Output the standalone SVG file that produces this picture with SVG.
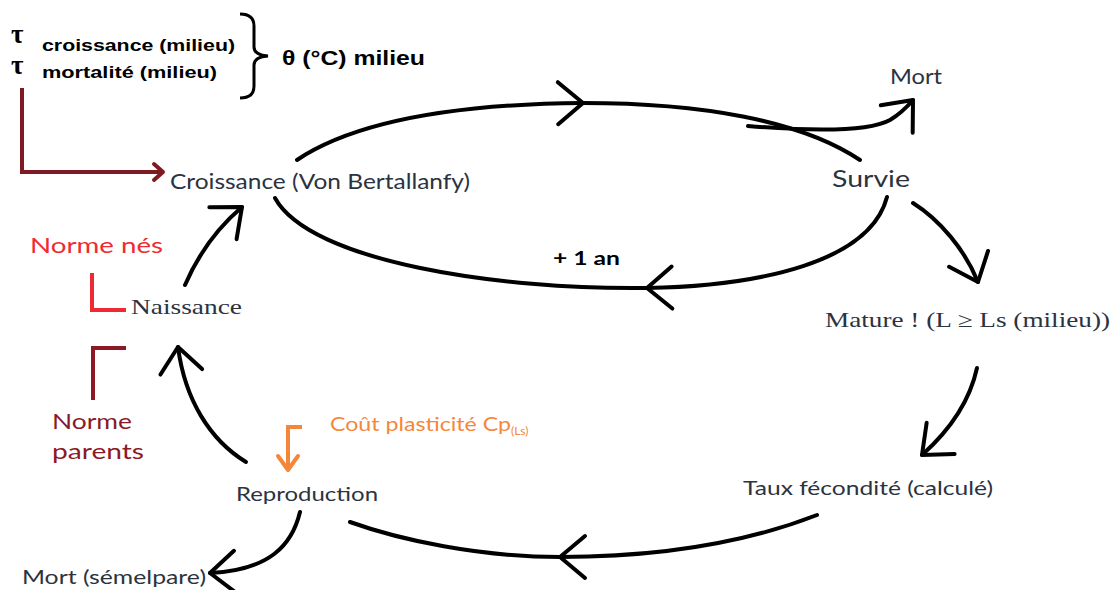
<svg xmlns="http://www.w3.org/2000/svg" width="1116" height="590" viewBox="0 0 1116 590">
<style>
text{white-space:pre}
.lbl{font-family:Lato,"Open Sans","Liberation Sans",sans-serif;fill:#2b3340}
.ser{font-family:"Liberation Serif","DejaVu Serif",serif;fill:#2b3340}
.bold{font-family:"Liberation Sans",Arial,sans-serif;font-weight:bold;fill:#000}
.tau{font-family:"Liberation Serif",serif;font-weight:bold;font-size:27px;fill:#000}
.arr{fill:none;stroke:#000;stroke-width:4;stroke-linecap:round;stroke-linejoin:round}
</style>
<defs>
<marker id="chev" markerUnits="userSpaceOnUse" viewBox="-30 -25 34 50" markerWidth="34" markerHeight="50" refX="0" refY="0" orient="auto" overflow="visible">
<path d="M-25,-21 L0,0 L-25,21" fill="none" stroke="#000" stroke-width="4" stroke-linecap="round" stroke-linejoin="round"/>
</marker>
<marker id="chevDR" markerUnits="userSpaceOnUse" viewBox="-16 -12 20 24" markerWidth="20" markerHeight="24" refX="0" refY="0" orient="auto" overflow="visible">
<path d="M-9,-8 L0,0 L-9,8" fill="none" stroke="#7f1a24" stroke-width="4" stroke-linecap="round" stroke-linejoin="round"/>
</marker>
<marker id="chevOr" markerUnits="userSpaceOnUse" viewBox="-16 -12 20 24" markerWidth="20" markerHeight="24" refX="0" refY="0" orient="auto" overflow="visible">
<path d="M-14,-10 L0,0 L-14,10" fill="none" stroke="#f5873a" stroke-width="4" stroke-linecap="round" stroke-linejoin="round"/>
</marker>
</defs>
<rect width="1116" height="590" fill="#fff"/>

<g id="connectors">
<path class="arr" d="M297,160 C360,118 470,104 583,103" marker-end="url(#chev)"/>
<path class="arr" d="M583,103 C700,103 800,120 860,160"/>
<path class="arr" d="M748,126 C820,132 870,131 890,120 C900,114 907,107 913,100" marker-end="url(#chev)"/>
<path class="arr" d="M887,197 C870,262 760,286 647,288" marker-end="url(#chev)"/>
<path class="arr" d="M647,288 C500,290 310,262 275,198"/>
<path class="arr" d="M913,203 C940,220 965,250 978,282" marker-end="url(#chev)"/>
<path class="arr" d="M977,368 C970,400 950,430 922,455" marker-end="url(#chev)"/>
<path class="arr" d="M817,515 C740,545 650,557 560,557" marker-end="url(#chev)"/>
<path class="arr" d="M560,557 C480,557 400,540 350,522"/>
<path class="arr" d="M300,512 C292,545 270,570 210,573" marker-end="url(#chev)"/>
<path class="arr" d="M246,462 C210,440 185,400 178,347" marker-end="url(#chev)"/>
<path class="arr" d="M185,285 C198,255 215,230 242,207" marker-end="url(#chev)"/>
<path d="M22,88 L22,172 L163,172" fill="none" stroke="#7f1a24" stroke-width="4" marker-end="url(#chevDR)"/>
<path d="M302,427 L288,427 L288,470" fill="none" stroke="#f5873a" stroke-width="4" marker-end="url(#chevOr)"/>
<path d="M92,273 L92,310 L126,310" fill="none" stroke="#ee2a33" stroke-width="4"/>
<path d="M93,400 L93,348 L126,348" fill="none" stroke="#8b1a26" stroke-width="4"/>
<path d="M240,14 Q254,14 254,26 L254,47 Q254,55 268,56 Q254,57 254,65 L254,86 Q254,98 240,98" fill="none" stroke="#000" stroke-width="3"/>
</g>

<g id="params">
<text class="tau" x="11" y="43">τ</text>
<text class="tau" x="11" y="74">τ</text>
<text class="bold" x="42" y="51" font-size="16" textLength="193" lengthAdjust="spacingAndGlyphs">croissance (milieu)</text>
<text class="bold" x="42" y="78" font-size="16" textLength="175" lengthAdjust="spacingAndGlyphs">mortalité (milieu)</text>
<text class="bold" x="282" y="65" font-size="20" textLength="143" lengthAdjust="spacingAndGlyphs">θ (°C) milieu</text>
</g>

<g id="croissance"><text class="lbl" x="170" y="189" font-size="22" textLength="300" lengthAdjust="spacingAndGlyphs">Croissance (Von Bertallanfy)</text></g>
<g id="survie"><text class="lbl" x="832" y="187" font-size="24" textLength="78" lengthAdjust="spacingAndGlyphs">Survie</text></g>
<g id="mort"><text class="lbl" x="890" y="84" font-size="21" textLength="52" lengthAdjust="spacingAndGlyphs">Mort</text></g>
<g id="an"><text x="553" y="265" font-family="Lato,'Open Sans',sans-serif" font-weight="bold" font-size="19" fill="#000" textLength="67" lengthAdjust="spacingAndGlyphs">+ 1 an</text></g>
<g id="mature"><text class="ser" x="825" y="327" font-size="21" textLength="285" lengthAdjust="spacingAndGlyphs">Mature ! (L ≥ Ls (milieu))</text></g>
<g id="taux"><text class="lbl" x="743" y="495" font-size="19" textLength="250" lengthAdjust="spacingAndGlyphs">Taux fécondité (calculé)</text></g>
<g id="reproduction"><text class="lbl" x="236" y="501" font-size="19" textLength="142" lengthAdjust="spacingAndGlyphs">Reproduction</text></g>
<g id="mort-semelpare"><text class="lbl" x="22" y="584" font-size="19" textLength="184" lengthAdjust="spacingAndGlyphs">Mort (sémelpare)</text></g>
<g id="naissance"><text class="ser" x="131" y="314" font-size="22" textLength="111" lengthAdjust="spacingAndGlyphs">Naissance</text></g>
<g id="norme-nes"><text x="30" y="253" font-family="Lato,'Open Sans',sans-serif" font-size="21" fill="#ee2a33" textLength="133" lengthAdjust="spacingAndGlyphs">Norme nés</text></g>
<g id="norme-parents">
<text x="52" y="429" font-family="Lato,'Open Sans',sans-serif" font-size="21" fill="#8b1a26" textLength="80" lengthAdjust="spacingAndGlyphs">Norme</text>
<text x="52" y="459" font-family="Lato,'Open Sans',sans-serif" font-size="21" fill="#8b1a26" textLength="92" lengthAdjust="spacingAndGlyphs">parents</text>
</g>
<g id="cout"><text x="330" y="431" font-family="Lato,'Open Sans',sans-serif" font-size="19" fill="#f5873a"><tspan textLength="181" lengthAdjust="spacingAndGlyphs">Coût plasticité Cp</tspan><tspan font-size="12" dy="4">(Ls)</tspan></text></g>
</svg>
